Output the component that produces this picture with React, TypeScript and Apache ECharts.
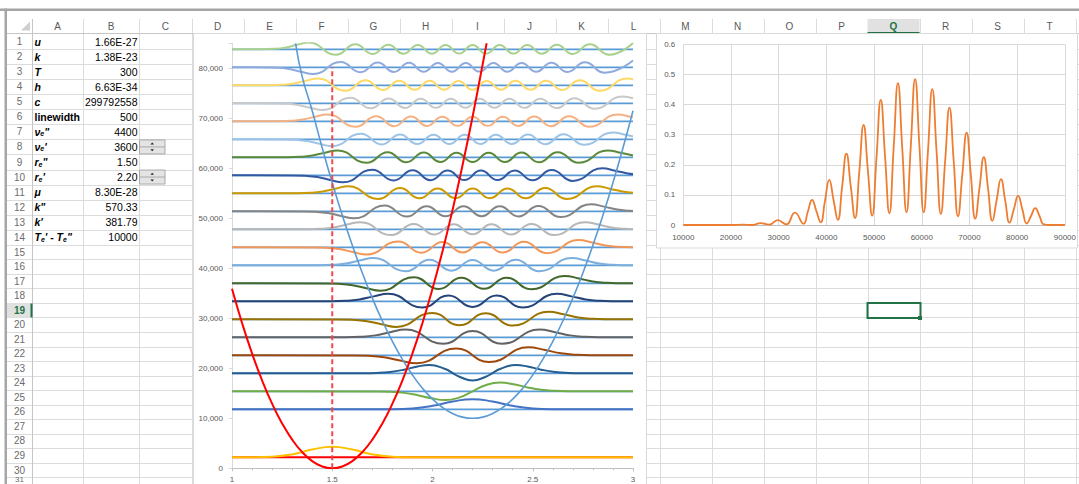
import React, { useEffect, useRef } from 'react';
import * as echarts from 'echarts';

// ---------------- spreadsheet content ----------------
const COLUMN_LETTERS = ['A', 'B', 'C', 'D', 'E', 'F', 'G', 'H', 'I', 'J', 'K', 'L', 'M', 'N', 'O', 'P', 'Q', 'R', 'S', 'T'];
const ROW_NUMBERS = [1, 2, 3, 4, 5, 6, 7, 8, 9, 10, 11, 12, 13, 14, 15, 16, 17, 18, 19, 20, 21, 22, 23, 24, 25, 26, 27, 28, 29, 30, 31];
const SELECTED_COLUMN = 'Q';
const SELECTED_ROW = 19;
const PARAM_LABELS = [
  '{bi|u}', '{bi|k}', '{bi|T}', '{bi|h}', '{bi|c}', '{b|linewidth}',
  '{bi|ν}{sub|e}{bi|"}', "{bi|ν}{sub|e}{bi|'}", '{bi|r}{sub|e}{bi|"}', "{bi|r}{sub|e}{bi|'}",
  '{bi|μ}', '{bi|k"}', "{bi|k'}", "{bi|T}{sub|e}{bi|' - T}{sub|e}{bi|\"}",
];
const PARAM_VALUES = ['1.66E-27', '1.38E-23', '300', '6.63E-34', '299792558', '500', '4400', '3600', '1.50', '2.20', '8.30E-28', '570.33', '381.79', '10000'];
const SPIN_BUTTON_ROWS = [8, 10];

// ---------------- left chart: potentials, levels, wavefunctions ----------------
const GROUND_LEVEL = 2200;
const LEVEL_ENERGIES = [11800, 15400, 19000, 22600, 26200, 29800, 33400, 37000, 40600, 44200, 47800, 51400, 55000, 58600, 62200, 65800, 69400, 73000, 76600, 80200, 83800];
const GROUND_COLOR = '#FFC000';
const WAVE_COLORS = ['#4472C4', '#70AD47', '#255E91', '#9E480E', '#636363', '#997300', '#264478', '#43682B', '#7CAFDD', '#F1975A', '#B7B7B7', '#848484', '#CC9A00', '#335AA1', '#5A8A39', '#9DC3E6', '#F4B183', '#C9C9C9', '#FFD966', '#8FAADC', '#A9D18E'];

// [r, displacement from the level]
const PSI_GROUND = [[1, 0], [1.1, 12], [1.2, 113], [1.3, 579], [1.4, 1541], [1.5, 2135], [1.6, 1541], [1.7, 579], [1.8, 113], [1.9, 12], [3, 0]];
const PSI_0 = [[1, 0], [1.8, 28], [1.9, 184], [2.0, 698], [2.1, 1555], [2.2, 2030], [2.3, 1555], [2.4, 698], [2.5, 184], [2.6, 28], [3, 0]];
const PSI_1 = [[1, 0], [1.721, -22], [1.789, -96], [1.858, -315], [1.926, -777], [1.995, -1398], [2.063, -1741], [2.132, -1267], [2.2, 0], [2.268, 1267], [2.337, 1741], [2.405, 1398], [2.474, 777], [2.542, 315], [2.611, 96], [2.679, 22], [3, 0]];
const PSI_2 = [[1, 0], [1.653, 15], [1.721, 74], [1.789, 271], [1.858, 725], [1.926, 1360], [1.984, 1645], [2.063, 871], [2.103, 0], [2.132, -633], [2.2, -1435], [2.268, -633], [2.297, 0], [2.337, 871], [2.416, 1645], [2.474, 1360], [2.542, 725], [2.611, 271], [2.679, 74], [2.747, 15], [3, 0]];
const PSI_3 = [[1, 0], [1.602, -19], [1.681, -103], [1.759, -397], [1.838, -1053], [1.921, -1588], [2.118, 1340], [2.282, -1340], [2.479, 1588], [2.562, 1053], [2.641, 397], [2.719, 103], [2.798, 19], [3, 0]];
const PSI_4 = [[1, 0], [1.563, 19], [1.639, 100], [1.714, 386], [1.789, 1025], [1.866, 1545], [2.054, -1288], [2.2, 1243], [2.346, -1288], [2.534, 1545], [2.611, 1025], [2.686, 386], [2.761, 100], [2.837, 19], [3, 0]];
const PSI_5 = [[1, 0], [1.528, -18], [1.6, -98], [1.673, -379], [1.746, -1004], [1.82, -1515], [1.999, 1251], [2.135, -1190], [2.265, 1190], [2.401, -1251], [2.58, 1515], [2.654, 1004], [2.727, 379], [2.8, 98], [2.872, 18], [3, 0]];
const PSI_6 = [[1, 0], [1.494, 18], [1.565, 97], [1.636, 373], [1.707, 988], [1.779, 1490], [1.95, -1223], [2.08, 1154], [2.2, -1136], [2.32, 1154], [2.45, -1223], [2.621, 1490], [2.693, 988], [2.764, 373], [2.835, 97], [2.906, 18], [3, 0]];
const PSI_7 = [[1, 0], [1.462, -18], [1.532, -96], [1.601, -368], [1.67, -975], [1.74, -1470], [1.907, 1201], [2.031, -1126], [2.144, 1099], [2.256, -1099], [2.369, 1126], [2.493, -1201], [2.66, 1470], [2.73, 975], [2.799, 368], [2.868, 96], [2.938, 18], [3, 0]];
const PSI_8 = [[1, 0], [1.432, 17], [1.5, 95], [1.568, 364], [1.636, 965], [1.705, 1455], [1.867, -1183], [1.986, 1104], [2.095, -1071], [2.2, 1062], [2.305, -1071], [2.414, 1104], [2.533, -1183], [2.695, 1455], [2.764, 965], [2.832, 364], [2.9, 95], [2.968, 17], [3, 0]];
const PSI_9 = [[1, 0], [1.404, -17], [1.47, -94], [1.537, -360], [1.603, -955], [1.671, -1440], [1.829, 1167], [1.945, -1086], [2.05, 1050], [2.151, -1035], [2.249, 1035], [2.35, -1050], [2.455, 1086], [2.571, -1167], [2.729, 1440], [2.797, 955], [2.863, 360], [2.93, 94], [3, 15]];
const PSI_10 = [[1, 0], [1.377, 17], [1.442, 93], [1.507, 356], [1.573, 945], [1.639, 1425], [1.794, -1154], [1.907, 1072], [2.009, -1033], [2.106, 1014], [2.2, -1008], [2.294, 1014], [2.391, -1033], [2.493, 1072], [2.606, -1154], [2.761, 1425], [2.827, 945], [2.893, 356], [2.958, 93], [3, 25]];
const PSI_11 = [[1, 0], [1.35, -17], [1.415, -92], [1.479, -354], [1.544, -937], [1.609, -1414], [1.761, 1143], [1.872, -1058], [1.971, 1017], [2.065, -996], [2.155, 986], [2.245, -986], [2.335, 996], [2.429, -1017], [2.528, 1058], [2.639, -1143], [2.791, 1414], [2.856, 937], [2.921, 354], [2.985, 92], [3, 60]];
const PSI_12 = [[1, 0], [1.325, 17], [1.389, 91], [1.452, 351], [1.516, 930], [1.58, 1403], [1.73, -1132], [1.838, 1047], [1.935, -1005], [2.026, 981], [2.114, -969], [2.2, 965], [2.286, -969], [2.374, 981], [2.465, -1005], [2.562, 1047], [2.67, -1132], [2.82, 1403], [2.884, 930], [2.948, 351], [3, 110]];
const PSI_13 = [[1, 0], [1.301, -17], [1.363, -91], [1.426, -348], [1.489, -924], [1.553, -1393], [1.7, 1122], [1.806, -1037], [1.901, 993], [1.99, -968], [2.075, 953], [2.159, -947], [2.241, 947], [2.325, -953], [2.41, 968], [2.499, -993], [2.594, 1037], [2.7, -1122], [2.847, 1393], [2.911, 924], [2.974, 348], [3, 240]];
const PSI_14 = [[1, 0], [1.277, 17], [1.339, 90], [1.401, 346], [1.463, 918], [1.526, 1384], [1.671, -1113], [1.776, 1027], [1.869, -983], [1.956, 956], [2.039, -940], [2.12, 932], [2.2, -929], [2.28, 932], [2.361, -940], [2.444, 956], [2.531, -983], [2.624, 1027], [2.729, -1113], [2.874, 1384], [2.937, 918], [3, 346]];
const PSI_15 = [[1, 0], [1.254, -17], [1.315, -89], [1.377, -344], [1.438, -912], [1.5, -1376], [1.643, 1106], [1.747, -1019], [1.838, 974], [1.924, -947], [2.005, 930], [2.084, -919], [2.161, 915], [2.239, -915], [2.316, 919], [2.395, -930], [2.476, 947], [2.562, -974], [2.653, 1019], [2.757, -1106], [2.9, 1376], [2.962, 912], [3, 560]];
const PSI_16 = [[1, 0], [1.232, 16], [1.292, 89], [1.353, 342], [1.414, 907], [1.476, 1368], [1.617, -1099], [1.719, 1012], [1.809, -966], [1.893, 938], [1.972, -920], [2.049, 908], [2.125, -902], [2.2, 900], [2.275, -902], [2.351, 908], [2.428, -920], [2.507, 938], [2.591, -966], [2.681, 1012], [2.783, -1099], [2.924, 1368], [2.986, 907], [3, 780]];
const PSI_17 = [[1, 0], [1.21, -16], [1.27, -88], [1.33, -340], [1.39, -902], [1.452, -1361], [1.591, 1092], [1.692, -1005], [1.781, 959], [1.863, -930], [1.941, 911], [2.017, -899], [2.091, 891], [2.164, -887], [2.236, 887], [2.309, -891], [2.383, 899], [2.459, -911], [2.537, 930], [2.619, -959], [2.708, 1005], [2.809, -1092], [2.948, 1361], [3, 1006]];
const PSI_18 = [[1, 0], [1.189, 16], [1.248, 88], [1.308, 339], [1.367, 898], [1.428, 1354], [1.566, -1087], [1.666, 999], [1.753, -953], [1.834, 923], [1.911, -903], [1.986, 890], [2.058, -881], [2.129, 877], [2.2, -875], [2.271, 877], [2.342, -881], [2.414, 890], [2.489, -903], [2.566, 923], [2.647, -953], [2.734, 999], [2.834, -1087], [2.972, 1354], [3, 1226]];
const PSI_19 = [[1, 0], [1.168, -16], [1.227, -88], [1.286, -337], [1.345, -894], [1.405, -1348], [1.542, 1080], [1.64, -993], [1.727, 946], [1.807, -916], [1.883, 896], [1.956, -882], [2.027, 872], [2.097, -866], [2.166, 863], [2.234, -863], [2.304, 866], [2.373, -872], [2.444, 882], [2.517, -896], [2.593, 916], [2.673, -946], [2.76, 993], [2.858, -1080], [3, 1348]];
const PSI_20 = [[1, 0], [1.148, 16], [1.207, 87], [1.265, 336], [1.324, 890], [1.383, 1342], [1.518, -1075], [1.616, 987], [1.701, -939], [1.78, 909], [1.855, -889], [1.927, 874], [1.997, -864], [2.065, 857], [2.133, -853], [2.2, 852], [2.267, -853], [2.335, 857], [2.403, -864], [2.473, 874], [2.545, -889], [2.62, 909], [2.699, -939], [2.784, 987], [2.882, -1075], [3, 1264]];
const WAVES = [PSI_0, PSI_1, PSI_2, PSI_3, PSI_4, PSI_5, PSI_6, PSI_7, PSI_8, PSI_9, PSI_10, PSI_11, PSI_12, PSI_13, PSI_14, PSI_15, PSI_16, PSI_17, PSI_18, PSI_19, PSI_20];

const LOWER_POTENTIAL = [[1.0, 35890], [1.05, 29070], [1.1, 22970], [1.15, 17590], [1.2, 12920], [1.25, 8970], [1.3, 5740], [1.35, 3230], [1.4, 1440], [1.45, 360], [1.5, 0], [1.55, 360], [1.6, 1440], [1.65, 3230], [1.7, 5740], [1.75, 8970], [1.8, 12920], [1.85, 17590], [1.9, 22970], [1.95, 29070], [2.0, 35890], [2.05, 43430], [2.1, 51680], [2.15, 60650], [2.2, 70340], [2.25, 80750], [2.27, 85000]];
const UPPER_POTENTIAL = [[1.317, 85000], [1.35, 78340], [1.4, 71500], [1.45, 64060], [1.5, 57090], [1.55, 50600], [1.6, 44600], [1.65, 39070], [1.7, 34030], [1.75, 29460], [1.8, 25380], [1.85, 21770], [1.9, 18650], [1.95, 16010], [2.0, 13840], [2.05, 12160], [2.1, 10960], [2.15, 10240], [2.2, 10000], [2.25, 10240], [2.3, 10960], [2.35, 12160], [2.4, 13840], [2.45, 16010], [2.5, 18650], [2.55, 21770], [2.6, 25380], [2.65, 29460], [2.7, 34030], [2.75, 39070], [2.8, 44600], [2.85, 50600], [2.9, 57090], [2.95, 64060], [3.0, 71500]];
const EQUILIBRIUM_LINE = [[1.5, 0], [1.5, 80200]];

// ---------------- right chart: spectrum ----------------
const SPECTRUM = [
  [10000, 0], [20000, 0], [22600, 0.001], [24400, 0], [26200, 0.006], [28000, 0.001], [29800, 0.016], [31600, 0.002], [33400, 0.041], [35200, 0.004],
  [36100, 0.044], [37000, 0.083], [37900, 0.046], [38800, 0.009],
  [39700, 0.08], [40600, 0.15], [41500, 0.083], [42400, 0.017],
  [43300, 0.127], [44200, 0.237], [45100, 0.13], [46000, 0.023],
  [46900, 0.177], [47800, 0.332], [48700, 0.181], [49600, 0.031],
  [50500, 0.223], [51400, 0.415], [52300, 0.227], [53200, 0.039],
  [54100, 0.255], [55000, 0.471], [55900, 0.256], [56800, 0.042],
  [57700, 0.263], [58600, 0.484], [59500, 0.263], [60400, 0.042],
  [61300, 0.246], [62200, 0.451], [63100, 0.244], [64000, 0.037],
  [64900, 0.213], [65800, 0.39], [66700, 0.21], [67600, 0.029],
  [68500, 0.168], [69400, 0.307], [70300, 0.164], [71200, 0.021],
  [72100, 0.123], [73000, 0.225], [73900, 0.12], [74800, 0.014],
  [75700, 0.083], [76600, 0.152], [77500, 0.08], [78400, 0.008],
  [79300, 0.052], [80200, 0.097], [81100, 0.051], [82000, 0.005],
  [82900, 0.03], [83800, 0.056], [84700, 0.029], [85600, 0.002], [87000, 0], [90000, 0],
];

// ---------------- layout ----------------
const FONT = 'Liberation Sans';
const COL_EDGES = [32, 83, 139, 191.5, 243.5, 295.5, 347.5, 399.5, 451.5, 503.5, 555.5, 607.5, 659.5, 711.5, 763.5, 815.5, 867.5, 919.5, 971.5, 1023.5, 1075.5];

function rowTop(r: number) {
  return r <= 15 ? 34 + 15.06 * (r - 1) : 244.84 + 14.53 * (r - 15);
}
function rowMid(r: number) {
  return (rowTop(r) + rowTop(r + 1)) / 2;
}

function buildSheet() {
  const els: any[] = [];
  const add = (e: any) => els.push({ silent: true, ...e });
  const rect = (x: number, y: number, w: number, h: number, style: any, z: number) =>
    add({ type: 'rect', shape: { x, y, width: w, height: h }, style, z });
  const line = (x1: number, y1: number, x2: number, y2: number, stroke: string, lw: number, z: number) =>
    add({ type: 'line', shape: { x1, y1, x2, y2 }, style: { stroke, lineWidth: lw }, z });
  const text = (x: number, y: number, t: string, opts: any, z = 10) =>
    add({
      type: 'text', x, y, z,
      style: {
        text: t, fontFamily: FONT, fontSize: 10.5, fill: '#000',
        align: 'left', textAlign: 'left', verticalAlign: 'middle', textVerticalAlign: 'middle', ...opts,
      },
    });

  rect(0, 0, 1079, 484, { fill: '#FFFFFF' }, -40);

  // grid lines
  for (let r = 2; r <= 32; r++) {
    const y = Math.round(rowTop(r)) + 0.5;
    line(7, y, 1079, y, '#DCDCDC', 1, -35);
  }
  COL_EDGES.slice(1).forEach((x) => line(Math.round(x) + 0.5, 19, Math.round(x) + 0.5, 484, '#DCDCDC', 1, -35));

  // headers
  const selR = SELECTED_ROW;
  rect(7, rowTop(selR) + 0.5, 25, rowTop(selR + 1) - rowTop(selR) - 0.5, { fill: '#E1E1E1' }, -33);
  rect(30.5, rowTop(selR) + 0.5, 2, rowTop(selR + 1) - rowTop(selR) - 0.5, { fill: '#217346' }, -32);
  const qi = COLUMN_LETTERS.indexOf(SELECTED_COLUMN);
  rect(COL_EDGES[qi], 19, COL_EDGES[qi + 1] - COL_EDGES[qi], 14.5, { fill: '#E1E1E1' }, -33);
  rect(COL_EDGES[qi], 32, COL_EDGES[qi + 1] - COL_EDGES[qi], 2, { fill: '#217346' }, -32);
  line(7, 33.5, 1079, 33.5, '#C6C6C6', 1, -34);
  line(32.5, 19, 32.5, 484, '#C6C6C6', 1, -34);
  add({ type: 'polygon', shape: { points: [[30, 21.5], [30, 30.5], [21, 30.5]] }, style: { fill: '#CFCFCF' }, z: -30 });

  // window frame
  rect(0, 8.5, 1079, 2.5, { fill: '#A6A6A6' }, 20);
  rect(4.5, 8.5, 2.5, 476, { fill: '#A6A6A6' }, 20);

  COLUMN_LETTERS.forEach((c, i) => {
    const sel = c === SELECTED_COLUMN;
    text((COL_EDGES[i] + COL_EDGES[i + 1]) / 2, 26, c, {
      align: 'center', textAlign: 'center', fontSize: 10, fill: sel ? '#217346' : '#595959', fontWeight: sel ? 'bold' : 'normal',
    });
  });
  ROW_NUMBERS.forEach((r) => {
    const sel = r === SELECTED_ROW;
    const last = r === ROW_NUMBERS[ROW_NUMBERS.length - 1];
    text(19.5, last ? 483.5 : rowMid(r), String(r), {
      align: 'center', textAlign: 'center', fontSize: last ? 8 : 10,
      verticalAlign: last ? 'bottom' : 'middle', textVerticalAlign: last ? 'bottom' : 'middle',
      fill: sel ? '#217346' : '#6B6B6B', fontWeight: sel ? 'bold' : 'normal',
    });
  });

  // cell contents
  const rich = {
    bi: { fontFamily: FONT, fontSize: 10.5, fontWeight: 'bold', fontStyle: 'italic', fill: '#000', color: '#000' },
    b: { fontFamily: FONT, fontSize: 10.5, fontWeight: 'bold', fill: '#000', color: '#000' },
    sub: { fontFamily: FONT, fontSize: 7, fontWeight: 'bold', fontStyle: 'italic', fill: '#000', color: '#000', verticalAlign: 'bottom', padding: [4, 0, 0, 0] },
  };
  PARAM_LABELS.forEach((lab, i) => text(34.5, rowMid(i + 1), lab, { rich }));
  PARAM_VALUES.forEach((v, i) => text(137.5, rowMid(i + 1), v, { align: 'right', textAlign: 'right' }));

  // spin buttons
  SPIN_BUTTON_ROWS.forEach((r) => {
    const y0 = rowTop(r) + 0.5;
    const h = 14;
    rect(139.5, y0, 25.5, h, { fill: '#E4E4E4', stroke: '#A9A9A9', lineWidth: 1 }, 5);
    line(140, y0 + h / 2, 165, y0 + h / 2, '#A9A9A9', 1, 6);
    const cx = 152.2;
    add({ type: 'polygon', shape: { points: [[cx - 1.8, y0 + 4.6], [cx + 1.8, y0 + 4.6], [cx, y0 + 2.6]] }, style: { fill: '#222' }, z: 7 });
    add({ type: 'polygon', shape: { points: [[cx - 1.8, y0 + h - 4.6], [cx + 1.8, y0 + h - 4.6], [cx, y0 + h - 2.6]] }, style: { fill: '#222' }, z: 7 });
  });

  // selected cell
  rect(COL_EDGES[qi], rowTop(selR), COL_EDGES[qi + 1] - COL_EDGES[qi] + 1, rowTop(selR + 1) - rowTop(selR) + 0.5,
    { fill: 'none', stroke: '#217346', lineWidth: 2 }, -5);
  rect(COL_EDGES[qi + 1] - 1.5, rowTop(selR + 1) - 1.5, 4, 4, { fill: '#217346' }, -4);

  // chart areas
  rect(193.5, 33.5, 453, 470, { fill: '#FFFFFF', stroke: '#D9D9D9', lineWidth: 1 }, -10);
  rect(656.5, 33.5, 421, 214.5, { fill: '#FFFFFF', stroke: '#D9D9D9', lineWidth: 1 }, -10);

  return els;
}

function lineSeries(data: number[][], color: string, width: number, z: number, extra: any = {}) {
  return {
    type: 'line', xAxisIndex: 0, yAxisIndex: 0, data, symbol: 'none', silent: true, animation: false,
    lineStyle: { color, width }, z, ...extra,
  };
}

function buildOption() {
  const series: any[] = [];
  LEVEL_ENERGIES.forEach((e) => series.push(lineSeries([[1, e], [3, e]], '#5B9BD5', 1.8, 2)));
  series.push(lineSeries([[1, GROUND_LEVEL], [3, GROUND_LEVEL]], '#FF0000', 2, 2));
  series.push(lineSeries(PSI_GROUND.map(([x, d]) => [x, GROUND_LEVEL + d]), GROUND_COLOR, 2, 3, { smooth: 0.5 }));
  WAVES.forEach((psi, n) =>
    series.push(lineSeries(psi.map(([x, d]) => [x, LEVEL_ENERGIES[n] + d]), WAVE_COLORS[n], 2, 3, { smooth: 0.5 }))
  );
  series.push(lineSeries(UPPER_POTENTIAL, '#5B9BD5', 1.6, 4, { smooth: 0.5 }));
  series.push(lineSeries(LOWER_POTENTIAL, '#FF0000', 2, 4, { smooth: 0.5 }));
  series.push(lineSeries(EQUILIBRIUM_LINE, '#F0494C', 2, 4, { lineStyle: { color: '#F0494C', width: 2, type: [5, 3] } }));
  series.push({
    type: 'line', xAxisIndex: 1, yAxisIndex: 1, data: SPECTRUM, symbol: 'none', silent: true, smooth: 0.5,
    lineStyle: { color: '#ED7D31', width: 1.8 }, z: 3,
  });

  const labelStyle = { fontFamily: FONT, fontSize: 8, color: '#595959' };
  return {
    animation: false,
    textStyle: { fontFamily: FONT },
    graphic: { elements: buildSheet() },
    grid: [
      { left: 232, top: 43.3, width: 401, height: 425 },
      { left: 683.3, top: 44.3, width: 382.4, height: 180.7 },
    ],
    xAxis: [
      {
        type: 'value', gridIndex: 0, min: 1, max: 3, interval: 0.5,
        axisLine: { show: true, lineStyle: { color: '#BFBFBF', width: 1 } },
        axisTick: { show: true, length: 3, lineStyle: { color: '#BFBFBF' } },
        minorTick: { show: true, splitNumber: 5, length: 2, lineStyle: { color: '#BFBFBF' } },
        splitLine: { show: false },
        axisLabel: { ...labelStyle, margin: 7 },
      },
      {
        type: 'value', gridIndex: 1, min: 10000, max: 90000, interval: 10000,
        axisLine: { show: true, lineStyle: { color: '#BFBFBF', width: 1 } },
        axisTick: { show: false },
        splitLine: { show: true, lineStyle: { color: '#D9D9D9', width: 1 } },
        axisLabel: { ...labelStyle, margin: 8, formatter: (v: number) => String(v) },
      },
    ],
    yAxis: [
      {
        type: 'value', gridIndex: 0, min: 0, max: 85000, interval: 10000,
        axisLine: { show: true, lineStyle: { color: '#D9D9D9', width: 1 } },
        axisTick: { show: true, length: 3, lineStyle: { color: '#D9D9D9' } },
        splitLine: { show: false },
        axisLabel: {
          ...labelStyle, margin: 9,
          formatter: (v: number) => (v > 80000 ? '' : v.toLocaleString('en-US')),
        },
      },
      {
        type: 'value', gridIndex: 1, min: 0, max: 0.6, interval: 0.1,
        axisLine: { show: false },
        axisTick: { show: false },
        splitLine: { show: true, lineStyle: { color: '#D9D9D9', width: 1 } },
        axisLabel: { ...labelStyle, margin: 8, formatter: (v: number) => String(Math.round(v * 10) / 10) },
      },
    ],
    series,
  };
}

export default function App() {
  const ref = useRef<HTMLDivElement>(null);
  useEffect(() => {
    const chart = echarts.init(ref.current as HTMLDivElement, null, { renderer: 'svg' });
    chart.setOption(buildOption() as any);
    return () => chart.dispose();
  }, []);
  return (
    <div
      ref={ref}
      style={{ position: 'fixed', left: 0, top: 0, width: 1079, height: 484, background: '#FFFFFF' }}
    />
  );
}
